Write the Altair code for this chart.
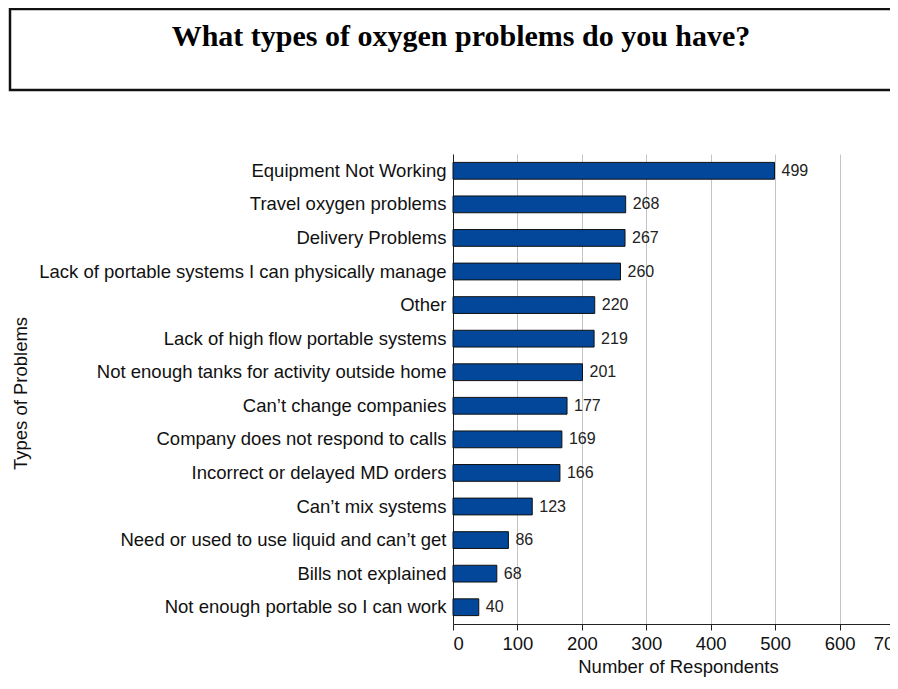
import altair as alt
import pandas as pd

problems = [
    "Equipment Not Working",
    "Travel oxygen problems",
    "Delivery Problems",
    "Lack of portable systems I can physically manage",
    "Other",
    "Lack of high flow portable systems",
    "Not enough tanks for activity outside home",
    "Can\u2019t change companies",
    "Company does not respond to calls",
    "Incorrect or delayed MD orders",
    "Can\u2019t mix systems",
    "Need or used to use liquid and can\u2019t get",
    "Bills not explained",
    "Not enough portable so I can work",
]
respondents = [499, 268, 267, 260, 220, 219, 201, 177, 169, 166, 123, 86, 68, 40]
x_ticks = [0, 100, 200, 300, 400, 500, 600, 700]
title_text = "What types of oxygen problems do you have?"

df = pd.DataFrame({"problem": problems, "n": respondents})

W = 437     # visible plot width (clipped by window)
RANGE = 451 # pixel span for 0..700
H = 470
TOP = 146
LEFT = 445

y_enc = alt.Y(
    "problem:N",
    sort=problems,
    scale=alt.Scale(paddingInner=0.5, paddingOuter=0.25),
    axis=alt.Axis(
        title="Types of Problems",
        titleFont="Liberation Sans",
        titleFontSize=18.5,
        titleFontWeight="normal",
        titleColor="#111",
        titleAngle=-90,
        titleX=-433,
        titleY=239,
        titleAlign="center",
        titleBaseline="middle",
        labelFont="Liberation Sans",
        labelFontSize=18.5,
        labelColor="#111",
        labelPadding=7,
        labelLimit=600,
        ticks=False,
        domainColor="#222",
        domainWidth=1,
        grid=False,
    ),
)

x_enc = alt.X(
    "n:Q",
    scale=alt.Scale(domain=[0, 700], nice=False, range=[0, RANGE]),
    axis=alt.Axis(
        values=x_ticks,
        title="Number of Respondents",
        titleFont="Liberation Sans",
        titleFontSize=18.5,
        titleFontWeight="normal",
        titleColor="#111",
        titlePadding=5,
        titleX=225,
        labelFont="Liberation Sans",
        labelFontSize=18.5,
        labelColor="#111",
        labelPadding=4,
        tickSize=6,
        tickColor="#222",
        domainColor="#222",
        grid=True,
        gridColor="#c4c4c4",
        gridWidth=1,
    ),
)

bars = alt.Chart(df).mark_bar(
    color="#02479a", stroke="#111", strokeWidth=1
).encode(x=x_enc, y=y_enc)

labels = alt.Chart(df).mark_text(
    align="left", baseline="middle", dx=7, font="Liberation Sans", fontSize=16, color="#222"
).encode(x="n:Q", y=alt.Y("problem:N", sort=problems), text="n:Q")

box = alt.Chart(pd.DataFrame({"t": [title_text]})).mark_rect(
    fill="white", stroke="#111", strokeWidth=2.5
).encode(
    x=alt.value(-443), x2=alt.value(470), y=alt.value(-145), y2=alt.value(-64)
)

title = alt.Chart(pd.DataFrame({"t": [title_text]})).mark_text(
    font="Liberation Serif", fontSize=30, fontWeight="bold", color="#000",
    align="center", baseline="middle"
).encode(x=alt.value(8), y=alt.value(-117), text="t:N")

chart = alt.layer(box, title, bars, labels).properties(
    width=W,
    height=H,
    padding={"left": LEFT, "top": TOP, "right": 0, "bottom": 56},
    autosize=alt.AutoSizeParams(type="none"),
).configure_view(stroke=None)

chart.save("out.html", embed_options={"renderer": "svg", "actions": False})
